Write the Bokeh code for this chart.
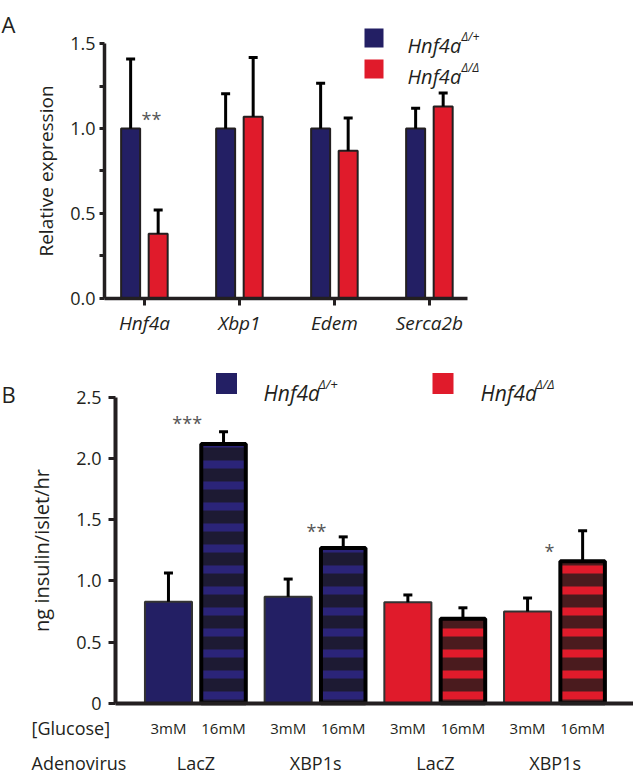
from bokeh.plotting import figure
from bokeh.models import (FixedTicker, Whisker, TeeHead, ColumnDataSource,
                          NumeralTickFormatter, Range1d, LinearAxis)
from bokeh.layouts import column
from bokeh.embed import file_html
from bokeh.resources import INLINE
from bokeh.core.properties import value

# ---------------- data ----------------
# Panel A: relative expression
genes = ["Hnf4a", "Xbp1", "Edem", "Serca2b"]
het_expr = [1.0, 1.0, 1.0, 1.0]          # Hnf4a Δ/+
het_expr_err = [0.41, 0.205, 0.267, 0.12]
ko_expr = [0.38, 1.07, 0.87, 1.13]         # Hnf4a Δ/Δ
ko_expr_err = [0.14, 0.35, 0.193, 0.08]
sig_a = ["**", "", "", ""]

# Panel B: insulin secretion (ng insulin/islet/hr)
groups_b = ["LacZ", "XBP1s", "LacZ", "XBP1s"]
genotype_b = ["het", "het", "ko", "ko"]
glucose = ["3mM", "16mM"]
low_glc = [0.83, 0.87, 0.825, 0.75]
low_glc_err = [0.235, 0.145, 0.06, 0.11]
high_glc = [2.12, 1.27, 0.69, 1.16]
high_glc_err = [0.10, 0.09, 0.09, 0.25]
sig_b = ["***", "**", "", "*"]

legend_labels = ["Hnf4a", "Hnf4a"]
legend_sups = ["\u0394/+", "\u0394/\u0394"]

# ---------------- style ----------------
FONT = "Open Sans"
INK = "#231f20"
BLUE = "#231f64"
RED = "#e01b2b"
BLUE_DARK = "#1d1a33"
BLUE_STRIPE = "#2b2479"
RED_DARK = "#4a1b1e"
RED_STRIPE = "#e01b2b"
STAR = "#555555"

W = 633

# ---------- panel A layout (pixel geometry) ----------
HA = 348
A_AXIS_PX = 104.0      # y-axis line
A_ZERO_PY = 297.6      # y = 0
A_PXX = 95.0
A_PXY = 169.5
A_AX = -0.42           # data x at the y-axis line
A_OFF = 0.145
A_BARW = 0.2


def ax(px):
    return A_AX + (px - A_AXIS_PX) / A_PXX


def ay(py):
    return (A_ZERO_PY - py) / A_PXY


pA = figure(width=W, height=HA, output_backend="svg", toolbar_location=None,
            x_range=Range1d(ax(0), ax(W)), y_range=Range1d(ay(HA), ay(0)),
            min_border=0, x_axis_location=None, y_axis_location=None)
pA.outline_line_color = None
pA.xgrid.visible = False
pA.ygrid.visible = False

xi = list(range(len(genes)))
xa_het = [i - A_OFF for i in xi]
xa_ko = [i + A_OFF for i in xi]
pA.vbar(x=xa_het, top=het_expr, width=A_BARW, fill_color=BLUE, line_color=INK, line_width=2)
pA.vbar(x=xa_ko, top=ko_expr, width=A_BARW, fill_color=RED, line_color=INK, line_width=2)

for xs, vals, errs in [(xa_het, het_expr, het_expr_err), (xa_ko, ko_expr, ko_expr_err)]:
    src = ColumnDataSource(dict(x=xs, lower=vals, upper=[v + e for v, e in zip(vals, errs)]))
    pA.add_layout(Whisker(source=src, base="x", lower="lower", upper="upper",
                          dimension="height", line_width=3, line_color="black",
                          lower_head=None,
                          upper_head=TeeHead(size=9, line_width=3, line_color="black"),
                          level="glyph"))

pA.text(x=[ax(151)], y=[ay(118)], text=[sig_a[0]], text_font=value(FONT),
        text_font_size=value("18px"), text_color=STAR, text_align="center",
        text_baseline="alphabetic")

ya = LinearAxis(fixed_location=A_AX, bounds=(0, 1.5),
                ticker=FixedTicker(ticks=[0, 0.5, 1.0, 1.5], minor_ticks=[0.25, 0.75, 1.25]),
                formatter=NumeralTickFormatter(format="0.0"))
ya.axis_line_width = 3.5
ya.axis_line_color = INK
ya.major_tick_line_width = 3
ya.minor_tick_line_width = 3
ya.major_tick_line_color = INK
ya.minor_tick_line_color = INK
ya.major_tick_out = 5
ya.major_tick_in = 0
ya.minor_tick_out = 5
ya.minor_tick_in = 0
ya.major_label_text_font = FONT
ya.major_label_text_font_size = "18px"
ya.major_label_text_color = INK
ya.major_label_standoff = 4
ya.axis_label = "Relative expression"
ya.axis_label_text_font = FONT
ya.axis_label_text_font_size = "19px"
ya.axis_label_text_font_style = "normal"
ya.axis_label_text_color = INK
ya.axis_label_standoff = 8
pA.add_layout(ya, "left")

xa = LinearAxis(fixed_location=0, bounds=(A_AX, ax(467)), ticker=FixedTicker(ticks=xi))
xa.major_label_overrides = {i: g for i, g in zip(xi, genes)}
xa.axis_line_width = 3.5
xa.axis_line_color = INK
xa.major_tick_line_width = 3
xa.major_tick_line_color = INK
xa.major_tick_out = 7
xa.major_tick_in = 0
xa.minor_tick_line_color = None
xa.major_label_text_font = FONT
xa.major_label_text_font_size = "19px"
xa.major_label_text_font_style = "italic"
xa.major_label_text_color = INK
xa.major_label_standoff = 5
pA.add_layout(xa, "below")

# legend A
pA.scatter(x=[ax(373.5), ax(373.5)], y=[ay(37.5), ay(68.5)], marker="square", size=19,
           fill_color=[BLUE, RED], line_color=None)
pA.text(x=[ax(407), ax(407)], y=[ay(45), ay(76)], text=legend_labels, text_font=value(FONT),
        text_font_size=value("20px"), text_font_style="italic", text_color=INK,
        text_baseline="alphabetic", text_align="left")
pA.text(x=[ax(461), ax(461)], y=[ay(36), ay(67)], text=legend_sups, text_font=value(FONT),
        text_font_size=value("12px"), text_font_style="italic", text_color=INK,
        text_baseline="alphabetic", text_align="left")

pA.text(x=[ax(1)], y=[ay(23)], text=["A"], text_font=value(FONT),
        text_font_size=value("22px"), text_color=INK, text_baseline="alphabetic",
        text_align="left")

# ---------- panel B layout (pixel geometry, page coordinates) ----------
HB = 426
B_TOP = HA
B_AXIS_PX = 115.0
B_ZERO_PY = 702.7
B_PXX = 119.7
B_PXY = 122.3
B_AX = -0.6725
B_OFF = 0.23


def bx(px):
    return B_AX + (px - B_AXIS_PX) / B_PXX


def by(py):
    return (B_ZERO_PY - py) / B_PXY


pB = figure(width=W, height=HB, output_backend="svg", toolbar_location=None,
            x_range=Range1d(bx(0), bx(W)), y_range=Range1d(by(B_TOP + HB), by(B_TOP)),
            min_border=0, x_axis_location=None, y_axis_location=None)
pB.outline_line_color = None
pB.xgrid.visible = False
pB.ygrid.visible = False

gi = list(range(len(groups_b)))
xb_low = [g - B_OFF for g in gi]
xb_high = [g + B_OFF for g in gi]
low_fill = [BLUE if t == "het" else RED for t in genotype_b]
high_fill = [BLUE_DARK if t == "het" else RED_DARK for t in genotype_b]
high_hatch = [BLUE_STRIPE if t == "het" else RED_STRIPE for t in genotype_b]

pB.vbar(x=xb_low, top=low_glc, width=0.393, fill_color=low_fill, line_color="#333333",
        line_width=2)
pB.vbar(x=xb_high, top=high_glc, width=0.372, fill_color=high_fill,
        hatch_pattern="horizontal_line", hatch_color=high_hatch, hatch_weight=8,
        hatch_scale=21, line_color="black", line_width=4)

for xs, vals, errs in [(xb_low, low_glc, low_glc_err), (xb_high, high_glc, high_glc_err)]:
    src = ColumnDataSource(dict(x=xs, lower=vals, upper=[v + e for v, e in zip(vals, errs)]))
    pB.add_layout(Whisker(source=src, base="x", lower="lower", upper="upper",
                          dimension="height", line_width=3, line_color="black",
                          lower_head=None,
                          upper_head=TeeHead(size=9, line_width=3, line_color="black"),
                          level="glyph"))

pB.text(x=[bx(186.7), bx(316), bx(549)], y=[by(422.5), by(530), by(550)],
        text=[sig_b[0], sig_b[1], sig_b[3]], text_font=value(FONT),
        text_font_size=value("18px"), text_color=STAR, text_align="center",
        text_baseline="alphabetic")

# category rows
pB.text(x=xb_low + xb_high, y=[by(727)] * 8,
        text=[glucose[0]] * 4 + [glucose[1]] * 4, text_font=value(FONT),
        text_font_size=value("15px"), text_color=INK, text_align="center",
        text_baseline="middle")
pB.text(x=gi, y=[by(762)] * 4, text=groups_b, text_font=value(FONT),
        text_font_size=value("18px"), text_color=INK, text_align="center",
        text_baseline="middle")
pB.text(x=[bx(31), bx(31)], y=[by(727), by(762)], text=["[Glucose]", "Adenovirus"],
        text_font=value(FONT), text_font_size=value("18px"), text_color=INK,
        text_align="left", text_baseline="middle")
pB.text(x=[bx(1)], y=[by(393)], text=["B"], text_font=value(FONT),
        text_font_size=value("22px"), text_color=INK, text_baseline="alphabetic",
        text_align="left")

# legend B
pB.scatter(x=[bx(226), bx(442.5)], y=[by(383), by(383)], marker="square", size=21,
           fill_color=[BLUE, RED], line_color=None)
pB.text(x=[bx(263), bx(480)], y=[by(392), by(392)], text=legend_labels,
        text_font=value(FONT), text_font_size=value("21px"), text_font_style="italic",
        text_color=INK, text_baseline="alphabetic", text_align="left")
pB.text(x=[bx(318), bx(535)], y=[by(383), by(383)], text=legend_sups,
        text_font=value(FONT), text_font_size=value("13px"), text_font_style="italic",
        text_color=INK, text_baseline="alphabetic", text_align="left")

yb = LinearAxis(fixed_location=B_AX, bounds=(0, 2.5),
                ticker=FixedTicker(ticks=[0, 0.5, 1.0, 1.5, 2.0, 2.5]))
yb.major_label_overrides = {0: "0", 0.5: "0.5", 1: "1.0", 1.5: "1.5", 2: "2.0", 2.5: "2.5"}
yb.axis_line_width = 4
yb.axis_line_color = INK
yb.major_tick_line_width = 3
yb.major_tick_line_color = INK
yb.major_tick_out = 7
yb.major_tick_in = 0
yb.minor_tick_line_color = None
yb.major_label_text_font = FONT
yb.major_label_text_font_size = "18px"
yb.major_label_text_color = INK
yb.major_label_standoff = 7
yb.axis_label = "ng insulin/islet/hr"
yb.axis_label_text_font = FONT
yb.axis_label_text_font_size = "20px"
yb.axis_label_text_font_style = "normal"
yb.axis_label_text_color = INK
yb.axis_label_standoff = 18
pB.add_layout(yb, "left")

# x-axis baseline of panel B: a plain line from the y-axis to the right edge
xb_axis = LinearAxis(fixed_location=0, bounds=(B_AX, bx(W)), ticker=FixedTicker(ticks=[]))
xb_axis.axis_line_width = 4
xb_axis.axis_line_color = INK
xb_axis.major_tick_line_color = None
xb_axis.minor_tick_line_color = None
xb_axis.major_label_text_color = None
pB.add_layout(xb_axis, "below")

layout = column(pA, pB, spacing=0)
open("out.html", "w").write(file_html(layout, INLINE))
